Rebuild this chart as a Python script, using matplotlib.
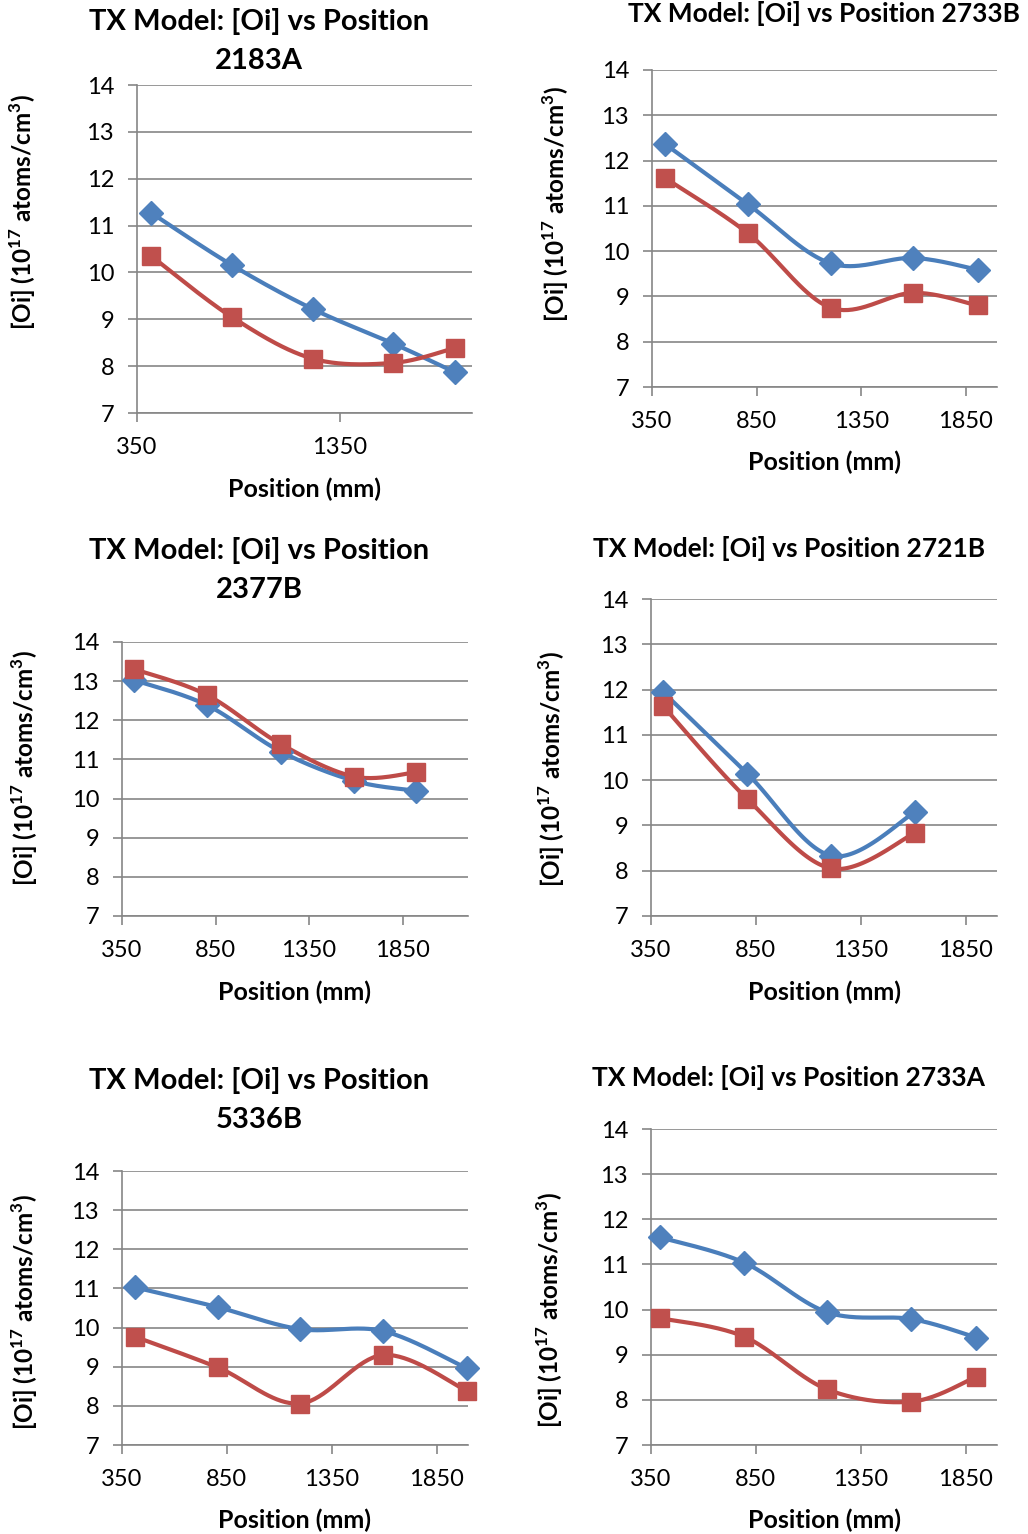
import numpy as np
import matplotlib.pyplot as plt

plt.rcParams['font.family'] = ['Lato', 'DejaVu Sans']
plt.rcParams['mathtext.fontset'] = 'custom'
plt.rcParams['mathtext.rm'] = 'Lato'
plt.rcParams['mathtext.bf'] = 'Lato:bold'

# Position along the ingot (mm) and [Oi] for each sample, two series per panel
pos_2183A = [420, 820, 1215, 1613, 1916]
blue_2183A = [11.27, 10.15, 9.22, 8.48, 7.87]
red_2183A = [10.35, 9.04, 8.16, 8.07, 8.39]

pos_2733B = [414, 810, 1205, 1599, 1907]
blue_2733B = [12.36, 11.03, 9.73, 9.85, 9.59]
red_2733B = [11.61, 10.39, 8.75, 9.08, 8.80]

pos_2377B = [412, 803, 1199, 1593, 1922]
blue_2377B = [13.03, 12.39, 11.20, 10.45, 10.20]
red_2377B = [13.31, 12.65, 11.39, 10.56, 10.67]

pos_2721B = [409, 810, 1210, 1608]
blue_2721B = [11.94, 10.14, 8.33, 9.29]
red_2721B = [11.63, 9.58, 8.05, 8.83]

pos_5336B = [410, 807, 1199, 1596, 1993]
blue_5336B = [11.03, 10.52, 9.96, 9.91, 8.96]
red_5336B = [9.77, 8.98, 8.06, 9.30, 8.39]

pos_2733A = [393, 794, 1191, 1592, 1901]
blue_2733A = [11.60, 11.04, 9.94, 9.79, 9.38]
red_2733A = [9.81, 9.40, 8.23, 7.96, 8.51]

BLUE_LINE, BLUE_MARK = '#4A7EBB', '#4F81BD'
RED_LINE, RED_MARK = '#BE4B48', '#C0504D'
GRID = '#868686'

W, H = 1028, 1534
fig = plt.figure(figsize=(W / 100, H / 100), dpi=100)


def px_axes(left, top, right, bottom):
    return fig.add_axes([left / W, 1 - bottom / H, (right - left) / W, (bottom - top) / H])


def smooth(xs, ys, sx, sy, n=40):
    # smoothed line like Excel: Bezier segments with Catmull-Rom tangents in screen units
    p = np.column_stack([np.asarray(xs, float) * sx, np.asarray(ys, float) * sy])
    out = []
    t = np.linspace(0, 1, n)[:, None]
    for i in range(len(p) - 1):
        p0 = p[i - 1] if i > 0 else p[i]
        p3 = p[i + 2] if i + 2 < len(p) else p[i + 1]
        c1 = p[i] + (p[i + 1] - p0) / 6
        c2 = p[i + 1] - (p3 - p[i]) / 6
        seg = (1 - t) ** 3 * p[i] + 3 * (1 - t) ** 2 * t * c1 + 3 * (1 - t) * t ** 2 * c2 + t ** 3 * p[i + 1]
        out.append(seg if i == 0 else seg[1:])
    out = np.vstack(out)
    return out[:, 0] / sx, out[:, 1] / sy


# two-line titles are set larger than the one-line ones
panels = [
    dict(name='2183A', box=(137, 85, 472, 413), xmax=2000, xticks=[350, 1350],
         x=pos_2183A, blue=blue_2183A, red=red_2183A,
         title=(259, 41, 'TX Model: [Oi] vs Position\n2183A', 21), ylab=(23, 212), xlab=(305, 489)),
    dict(name='2733B', box=(652, 70, 997, 387), xmax=2000, xticks=[350, 850, 1350, 1850],
         x=pos_2733B, blue=blue_2733B, red=red_2733B,
         title=(824, 13, 'TX Model: [Oi] vs Position 2733B', 19), ylab=(556, 204), xlab=(824, 462)),
    dict(name='2377B', box=(122, 642, 468, 916), xmax=2200, xticks=[350, 850, 1350, 1850],
         x=pos_2377B, blue=blue_2377B, red=red_2377B,
         title=(259, 570, 'TX Model: [Oi] vs Position\n2377B', 21), ylab=(25, 768), xlab=(295, 992)),
    dict(name='2721B', box=(651, 599, 997, 916), xmax=2000, xticks=[350, 850, 1350, 1850],
         x=pos_2721B, blue=blue_2721B, red=red_2721B,
         title=(789, 549, 'TX Model: [Oi] vs Position 2721B', 19), ylab=(552, 769), xlab=(824, 992)),
    dict(name='5336B', box=(122, 1171, 468, 1445), xmax=2000, xticks=[350, 850, 1350, 1850],
         x=pos_5336B, blue=blue_5336B, red=red_5336B,
         title=(259, 1100, 'TX Model: [Oi] vs Position\n5336B', 21), ylab=(25, 1312), xlab=(295, 1520)),
    dict(name='2733A', box=(651, 1129, 997, 1445), xmax=2000, xticks=[350, 850, 1350, 1850],
         x=pos_2733A, blue=blue_2733A, red=red_2733A,
         title=(789, 1078, 'TX Model: [Oi] vs Position 2733A', 19), ylab=(550, 1310), xlab=(824, 1520)),
]

ylabel = r'[Oi] (10$^{\mathbf{17}}$ atoms/cm$^{\mathbf{3}}$)'

for p in panels:
    l, t, r, b = p['box']
    ax = px_axes(l, t, r, b)
    ax.set_xlim(350, p['xmax'])
    ax.set_ylim(7, 14)
    sx = (r - l) / (p['xmax'] - 350)
    sy = (b - t) / 7.0

    for ys, lc, mc, mk, ms in [(p['blue'], BLUE_LINE, BLUE_MARK, 'D', 12),
                                (p['red'], RED_LINE, RED_MARK, 's', 13)]:
        xs_s, ys_s = smooth(p['x'], ys, sx, sy)
        ax.plot(xs_s, ys_s, color=lc, lw=3.0, solid_capstyle='round', zorder=3, clip_on=False)
        ax.plot(p['x'], ys, ls='none', marker=mk, ms=ms, color=mc, zorder=4, clip_on=False)

    ax.set_yticks(range(7, 15))
    ax.set_xticks(p['xticks'])
    ax.grid(axis='y', color=GRID, lw=1.2)
    ax.set_axisbelow(True)
    for side in ['top', 'right']:
        ax.spines[side].set_visible(False)
    for side in ['left', 'bottom']:
        ax.spines[side].set_color(GRID)
        ax.spines[side].set_linewidth(1.2)
    ax.tick_params(axis='both', colors=GRID, length=6.5, width=1.2, labelcolor='black', labelsize=17)
    ax.tick_params(axis='y', pad=10)
    ax.tick_params(axis='x', pad=11)

    tx, ty, txt, tsize = p['title']
    fig.text(tx / W, 1 - ty / H, txt, ha='center', va='center', fontsize=tsize,
             fontweight='bold', linespacing=1.6)
    yx, yy = p['ylab']
    fig.text(yx / W, 1 - yy / H, ylabel, rotation=90, ha='center', va='center',
             fontsize=17.5, fontweight='bold')
    xx, xy = p['xlab']
    fig.text(xx / W, 1 - xy / H, 'Position (mm)', ha='center', va='center',
             fontsize=18, fontweight='bold')

fig.savefig('out.png', dpi=100)
